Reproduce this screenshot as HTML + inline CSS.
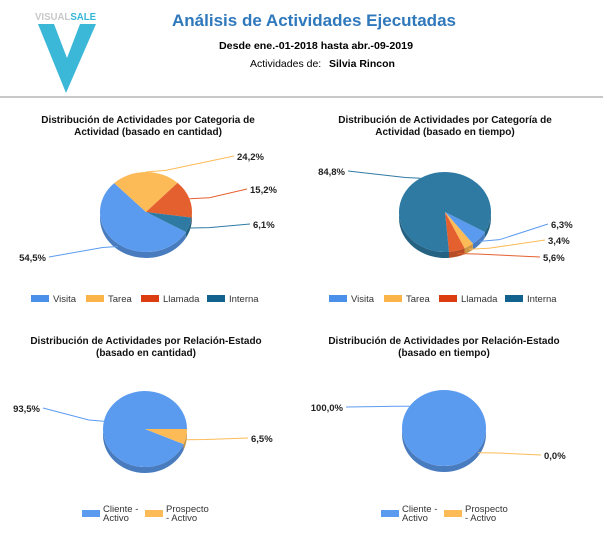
<!DOCTYPE html>
<html><head><meta charset="utf-8">
<style>
body{margin:0;background:#fff;width:603px;height:536px;overflow:hidden;font-family:"Liberation Sans",Arial,sans-serif}
svg{position:absolute;left:0;top:0}
</style></head>
<body>
<svg id="main" width="603" height="536" viewBox="0 0 603 536">
  <g>
    <text x="35" y="20" font-size="10" font-weight="bold" fill="#c8c8c8" textLength="61" lengthAdjust="spacingAndGlyphs">VISUAL<tspan fill="#35b6d6">SALE</tspan></text>
    <polygon points="38,24 54,24 67,58 80,24 96,24 66,93" fill="#3bb8d8"/>
  </g>
  <text x="314" y="26" text-anchor="middle" font-size="17" font-weight="bold" fill="#2f78bc" textLength="284" lengthAdjust="spacingAndGlyphs">Análisis de Actividades Ejecutadas</text>
  <text x="316" y="49" text-anchor="middle" font-size="10.5" font-weight="bold" fill="#000" textLength="194" lengthAdjust="spacingAndGlyphs">Desde ene.-01-2018 hasta abr.-09-2019</text>
  <text x="250" y="67" font-size="10.5" fill="#000">Actividades de:</text>
  <text x="329" y="67" font-size="10.5" font-weight="bold" fill="#000">Silvia Rincon</text>
  <rect x="0" y="96" width="603" height="2" fill="#c8c8c8"/>
</svg>
<script>
// ---- data ----
const catLabels = ["Visita","Tarea","Llamada","Interna"];
const catCountValues = [54.5, 24.2, 15.2, 6.1];
const catTimeValues = [6.3, 3.4, 5.6, 84.8];
const relLabels = ["Cliente - Activo","Prospecto - Activo"];
const relCountValues = [93.5, 6.5];
const relTimeValues = [100.0, 0.0];

const catColors = ["#5b9bef","#fdbb58","#e5602f","#2e7aa3"];
const catLegendColors = ["#4a90ea","#fbb44a","#dc3d10","#12628f"];
const relColors = ["#5b9bef","#fdbb58"];

const NS = "http://www.w3.org/2000/svg";
const svg = document.getElementById('main');
function mk(tag, attrs, parent){const e=document.createElementNS(NS,tag);for(const k in attrs)e.setAttribute(k,attrs[k]);(parent||svg).appendChild(e);return e;}
function shade(hex,f){const n=parseInt(hex.slice(1),16);let r=(n>>16)&255,g=(n>>8)&255,b=n&255;return `rgb(${Math.round(r*f)},${Math.round(g*f)},${Math.round(b*f)})`;}

const charts = [
  {name:"category-count", cx:146, cy:212, rx:46, ry:40, depth:6, start:30,
   title:["Distribución de Actividades por Categoria de","Actividad (basado en cantidad)"], tx:148, ty:123,
   labels:catLabels, values:catCountValues, colors:catColors, legendColors:catLegendColors,
   lab:[[46,261,"end"],[237,160,"start"],[250,193,"start"],[253,228,"start"]],
   legendX:31, legendY:302, legendW:[55,55,66,60]},
  {name:"category-time", cx:445, cy:212, rx:46, ry:40, depth:6, start:30,
   title:["Distribución de Actividades por Categoría de","Actividad (basado en tiempo)"], tx:445, ty:123,
   labels:catLabels, values:catTimeValues, colors:catColors, legendColors:catLegendColors,
   lab:[[551,228,"start"],[548,244,"start"],[543,261,"start"],[345,175,"end"]],
   legendX:329, legendY:302, legendW:[55,55,66,60]},
  {name:"relation-count", cx:145, cy:429, rx:42, ry:38, depth:6, start:23.4,
   title:["Distribución de Actividades por Relación-Estado","(basado en cantidad)"], tx:146, ty:344,
   labels:relLabels, values:relCountValues, colors:relColors, legendColors:relColors,
   lab:[[40,412,"end"],[251,442,"start"]],
   legendX:82, legendY:510, legendW:63,legend2:true},
  {name:"relation-time", cx:444, cy:428, rx:42, ry:38, depth:6, start:35,
   title:["Distribución de Actividades por Relación-Estado","(basado en tiempo)"], tx:444, ty:344,
   labels:relLabels, values:relTimeValues, colors:relColors, legendColors:relColors,
   lab:[[343,411,"end"],[544,459,"start"]],
   legendX:381, legendY:510, legendW:63,legend2:true}
];

function pt(c,deg,dy){const a=deg*Math.PI/180;return [c.cx+c.rx*Math.cos(a), c.cy+c.ry*Math.sin(a)+(dy||0)];}

charts.forEach(c=>{
  const g = mk('g',{});
  
  
  c.title.forEach((t,i)=>{
    const e=mk('text',{x:c.tx,y:c.ty+i*12,'text-anchor':'middle','font-size':'10','font-weight':'bold',fill:'#111'},g);
    e.textContent=t;
    
    
  });
  const total = c.values.reduce((a,b)=>a+b,0)||1;
  const angs=[]; let a=c.start;
  c.values.forEach(v=>{const s=a; a+=v/total*360; angs.push([s,a]);});
  angs.forEach(([s,e],i)=>{
    if(e-s<=0) return;
    for(let k=0;k<2;k++){
      const lo=Math.max(s,k*360), hi=Math.min(e,k*360+180);
      if(hi<=lo) continue;
      const p1=pt(c,lo),p2=pt(c,hi),p3=pt(c,hi,c.depth),p4=pt(c,lo,c.depth);
      const w=mk('path',{d:`M${p1[0]},${p1[1]} A${c.rx},${c.ry} 0 0 1 ${p2[0]},${p2[1]} L${p3[0]},${p3[1]} A${c.rx},${c.ry} 0 0 0 ${p4[0]},${p4[1]} Z`,fill:shade(c.colors[i],0.8)},g);
      
      
    }
  });
  angs.forEach(([s,e],i)=>{
    if(e-s<=0) return;
    let p;
    if(e-s>=359.99){
      p=mk('ellipse',{cx:c.cx,cy:c.cy,rx:c.rx,ry:c.ry,fill:c.colors[i]},g);
    } else {
      const p1=pt(c,s),p2=pt(c,e),large=(e-s)>180?1:0;
      p=mk('path',{d:`M${c.cx},${c.cy} L${p1[0]},${p1[1]} A${c.rx},${c.ry} 0 ${large} 1 ${p2[0]},${p2[1]} Z`,fill:c.colors[i]},g);
    }
    
    
  });
  angs.forEach(([s,e],i)=>{
    const m=(s+e)/2, edge=pt(c,m,(((m%360)+360)%360)<180?c.depth/2:0);
    const L=c.lab[i], isR=L[2]==="start";
    const lx=L[0]+(isR?-3:3);
    const elbowX = edge[0]+(isR?20:-15);
    const elbowY = edge[1]+ (L[1]-4-edge[1])*0.1;
    const ln=mk('polyline',{points:`${edge[0]},${edge[1]} ${elbowX},${elbowY} ${lx},${L[1]-4}`,fill:'none',stroke:c.colors[i],'stroke-width':'1'},g);
    
    
    const t=mk('text',{x:L[0],y:L[1],'text-anchor':L[2],'font-size':'9.5','font-weight':'bold',fill:'#222'},g);
    t.textContent=c.values[i].toFixed(1).replace('.',',')+'%';
    
    
  });
  let x=c.legendX;
  c.labels.forEach((lab,i)=>{
    const lg=mk('g',{},g);
    
    
    if(c.legend2){
      mk('rect',{x:x,y:c.legendY,width:18,height:7,fill:c.legendColors[i]},lg);
      const parts=i===0?["Cliente -","Activo"]:["Prospecto","- Activo"];
      parts.forEach((p,k)=>{const t=mk('text',{x:x+21,y:c.legendY+2+k*9,'font-size':'9.5',fill:'#333'},lg);t.textContent=p;});
      x+=c.legendW;
    } else {
      mk('rect',{x:x,y:c.legendY-7,width:18,height:7,fill:c.legendColors[i]},lg);
      const t=mk('text',{x:x+22,y:c.legendY,'font-size':'9.5',fill:'#333'},lg);t.textContent=lab;
      x+=c.legendW[i];
    }
  });
});
</script>
</body></html>
